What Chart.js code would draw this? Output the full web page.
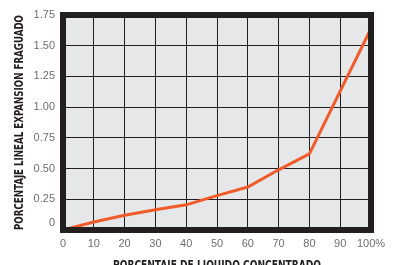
<!DOCTYPE html>
<html>
<head>
<meta charset="utf-8">
<script src="https://cdn.jsdelivr.net/npm/chart.js@4/dist/chart.umd.min.js"></script>
<style>
  html, body { margin: 0; padding: 0; background: #fff; overflow: hidden; }
  canvas { display: block; }
</style>
</head>
<body>
<canvas id="chart" width="393" height="265"></canvas>
<script>
// Data
const pctLiquido = [0, 10, 20, 30, 40, 50, 60, 70, 80, 90, 100];
const expansion = [0, 0.065, 0.12, 0.165, 0.205, 0.28, 0.35, 0.49, 0.62, 1.13, 1.64];
const xTickLabels = ['0', '10', '20', '30', '40', '50', '60', '70', '80', '90', '100%'];
const yTickLabels = ['0', '0.25', '0.50', '0.75', '1.00', '1.25', '1.50', '1.75'];
const xTitle = 'PORCENTAJE DE LIQUIDO CONCENTRADO';
const yTitle = 'PORCENTAJE LINEAL EXPANSION FRAGUADO';

const titleFont = 'bold 12px "Liberation Sans Narrow", "DejaVu Sans Condensed", "Liberation Sans", sans-serif';

// draws a title squeezed to a given width (the original uses a condensed face)
function squeezedText(ctx, text, x, y, width, angle) {
    ctx.save();
    ctx.font = titleFont;
    ctx.fillStyle = '#231f20';
    ctx.textAlign = 'center';
    ctx.textBaseline = 'middle';
    ctx.translate(x, y);
    ctx.rotate(angle);
    const w = ctx.measureText(text).width;
    ctx.scale(width / w, 1);
    ctx.fillText(text, 0, 0);
    ctx.restore();
}

const framePlugin = {
    id: 'frame',
    beforeDraw(chart) {
        const a = chart.chartArea;
        const ctx = chart.ctx;
        ctx.save();
        ctx.fillStyle = '#e6e7e8';
        ctx.fillRect(a.left, a.top, a.right - a.left, a.bottom - a.top);
        ctx.restore();
    },
    afterDatasetsDraw(chart) {
        const a = chart.chartArea;
        const ctx = chart.ctx;
        ctx.save();
        ctx.strokeStyle = '#231f20';
        ctx.lineWidth = 6;
        ctx.strokeRect(a.left, a.top, a.right - a.left, a.bottom - a.top);
        ctx.restore();
    },
    afterDraw(chart) {
        const a = chart.chartArea;
        const ctx = chart.ctx;
        squeezedText(ctx, xTitle, (a.left + a.right) / 2, 266, 208, 0);
        squeezedText(ctx, yTitle, 20, (a.top + a.bottom) / 2, 215, -Math.PI / 2);
    }
};

const tickFont = { family: '"Liberation Sans", Arial, sans-serif', size: 11 };

new Chart(document.getElementById('chart'), {
    type: 'line',
    data: {
        datasets: [{
            data: pctLiquido.map((x, i) => ({ x: x, y: expansion[i] })),
            borderColor: '#f15a29',
            borderWidth: 3,
            pointRadius: 0,
            tension: 0,
            fill: false
        }]
    },
    options: {
        responsive: false,
        animation: false,
        layout: { padding: { top: 15, right: 22, left: 0, bottom: 0 } },
        plugins: {
            legend: { display: false },
            tooltip: { enabled: false }
        },
        scales: {
            x: {
                type: 'linear',
                min: 0,
                max: 100,
                afterFit: function(scale) { scale.height = 35; },
                border: { display: false },
                grid: { color: '#231f20', lineWidth: 1, drawTicks: false },
                ticks: {
                    stepSize: 10,
                    padding: 7,
                    maxRotation: 0,
                    autoSkip: false,
                    color: '#6d6e71',
                    font: tickFont,
                    callback: function(v, i) { return xTickLabels[i]; }
                }
            },
            y: {
                min: 0,
                max: 1.75,
                afterFit: function(scale) { scale.width = 63; },
                border: { display: false },
                grid: { color: '#231f20', lineWidth: 1, drawTicks: false },
                ticks: {
                    stepSize: 0.25,
                    padding: 8,
                    autoSkip: false,
                    color: '#6d6e71',
                    font: tickFont,
                    // the zero label sits a little above its line in the original
                    callback: function(v, i) { return i === 0 ? [yTickLabels[i], ''] : yTickLabels[i]; }
                }
            }
        }
    },
    plugins: [framePlugin]
});
</script>
</body>
</html>
